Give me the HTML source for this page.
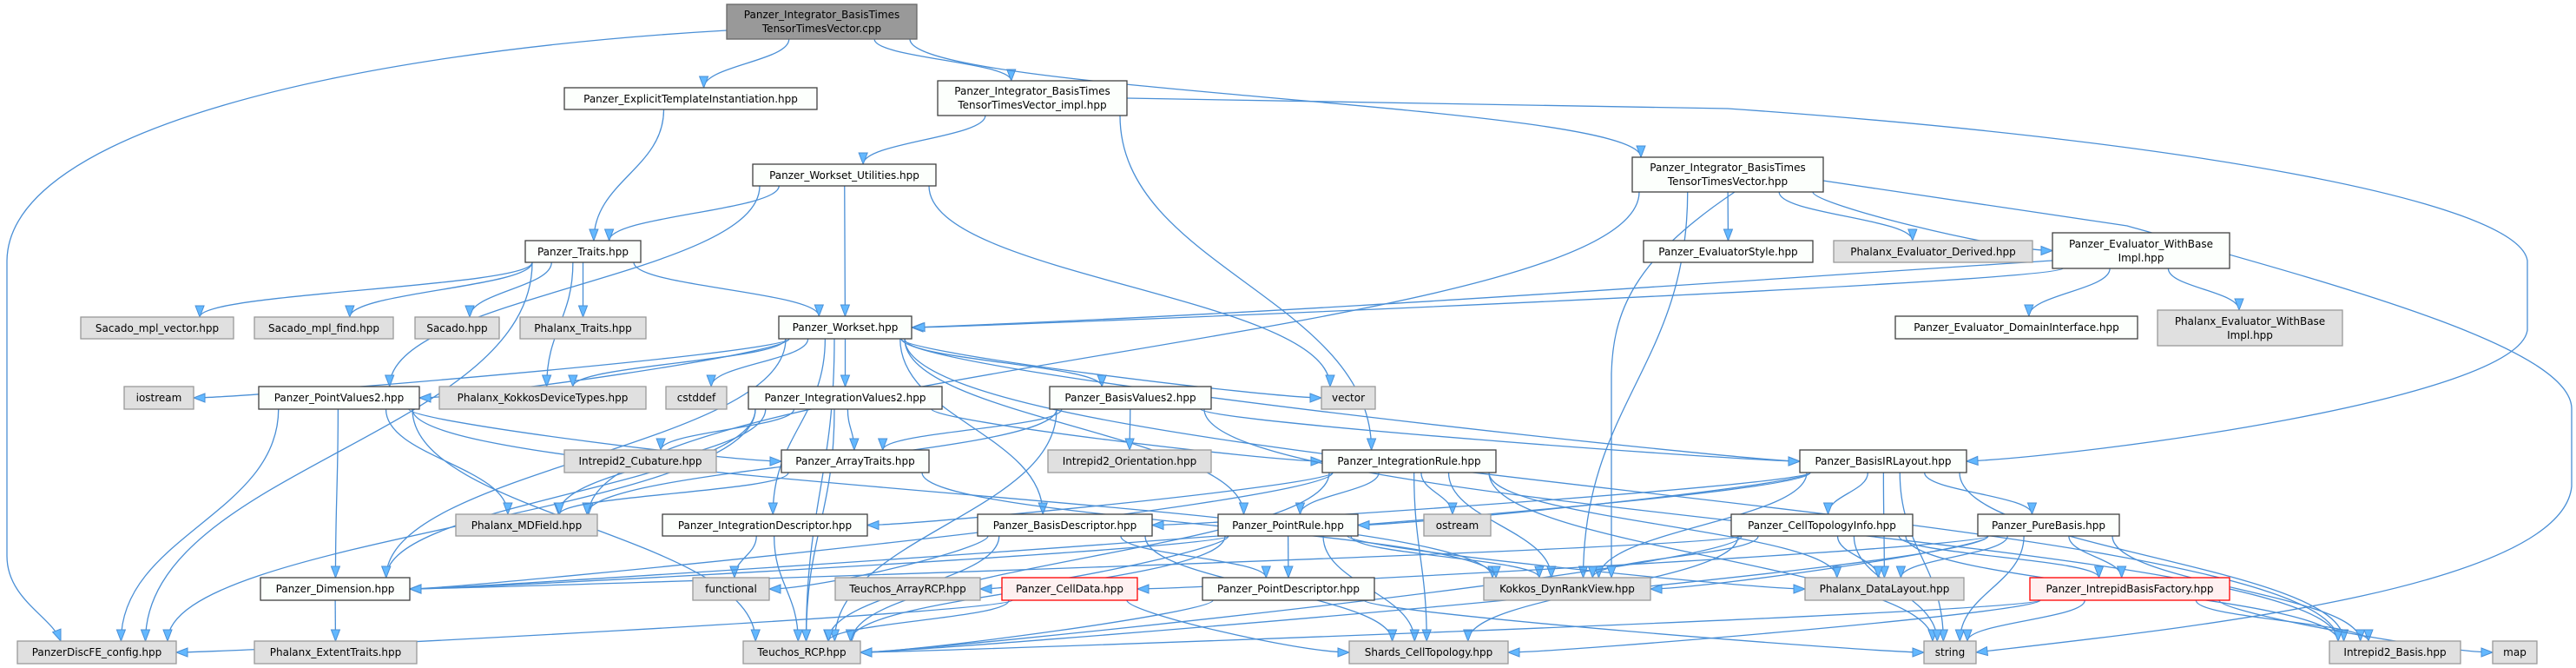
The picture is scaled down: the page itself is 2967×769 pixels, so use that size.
<!DOCTYPE html>
<html><head><meta charset="utf-8">
<style>
html,body{margin:0;padding:0;background:#fff;}
svg{display:block;}
text{font-family:"DejaVu Sans","Liberation Sans",sans-serif;font-size:12px;fill:#000;}
.w{fill:#fcfffc;stroke:#404040;stroke-width:1.3;}
.g{fill:#e0e0e0;stroke:#999;stroke-width:1.3;}
.r{fill:#fff0f0;stroke:#ff0000;stroke-width:1.3;}
.t{fill:#999;stroke:#666;stroke-width:1.3;}
.e{fill:none;stroke:#4a8fd6;stroke-width:1.3;}
.a{fill:#63b8ff;stroke:#4a8fd6;stroke-width:1;}
</style></head>
<body>
<svg id="s" width="2967" height="769" viewBox="0 0 2967 769" xmlns="http://www.w3.org/2000/svg">
<g id="edges"></g>
<g id="nodes">
<rect class="t" x="837" y="5" width="219" height="40"/><text x="946.5" y="21" text-anchor="middle">Panzer_Integrator_BasisTimes</text><text x="946.5" y="37" text-anchor="middle">TensorTimesVector.cpp</text>
<rect class="w" x="650" y="101" width="291" height="25"/><text x="795.5" y="118" text-anchor="middle">Panzer_ExplicitTemplateInstantiation.hpp</text>
<rect class="w" x="1080" y="93" width="218" height="40"/><text x="1189" y="109" text-anchor="middle">Panzer_Integrator_BasisTimes</text><text x="1189" y="125" text-anchor="middle">TensorTimesVector_impl.hpp</text>
<rect class="w" x="867" y="189" width="211" height="25"/><text x="972.5" y="206" text-anchor="middle">Panzer_Workset_Utilities.hpp</text>
<rect class="w" x="1880" y="181" width="220" height="40"/><text x="1990" y="197" text-anchor="middle">Panzer_Integrator_BasisTimes</text><text x="1990" y="213" text-anchor="middle">TensorTimesVector.hpp</text>
<rect class="w" x="605" y="277" width="133" height="25"/><text x="671.5" y="294" text-anchor="middle">Panzer_Traits.hpp</text>
<rect class="w" x="1893" y="277" width="195" height="25"/><text x="1990.5" y="294" text-anchor="middle">Panzer_EvaluatorStyle.hpp</text>
<rect class="g" x="2112" y="277" width="229" height="25"/><text x="2226.5" y="294" text-anchor="middle">Phalanx_Evaluator_Derived.hpp</text>
<rect class="w" x="2364" y="268" width="204" height="41"/><text x="2466" y="285" text-anchor="middle">Panzer_Evaluator_WithBase</text><text x="2466" y="301" text-anchor="middle">Impl.hpp</text>
<rect class="g" x="93" y="365" width="176" height="25"/><text x="181" y="382" text-anchor="middle">Sacado_mpl_vector.hpp</text>
<rect class="g" x="293" y="365" width="160" height="25"/><text x="373" y="382" text-anchor="middle">Sacado_mpl_find.hpp</text>
<rect class="g" x="478" y="365" width="97" height="25"/><text x="526.5" y="382" text-anchor="middle">Sacado.hpp</text>
<rect class="g" x="599" y="365" width="145" height="25"/><text x="671.5" y="382" text-anchor="middle">Phalanx_Traits.hpp</text>
<rect class="w" x="897" y="364" width="153" height="26"/><text x="973.5" y="381" text-anchor="middle">Panzer_Workset.hpp</text>
<rect class="w" x="2183" y="364" width="279" height="26"/><text x="2322.5" y="381" text-anchor="middle">Panzer_Evaluator_DomainInterface.hpp</text>
<rect class="g" x="2485" y="357" width="213" height="41"/><text x="2591.5" y="374" text-anchor="middle">Phalanx_Evaluator_WithBase</text><text x="2591.5" y="390" text-anchor="middle">Impl.hpp</text>
<rect class="g" x="143" y="445" width="80" height="26"/><text x="183" y="462" text-anchor="middle">iostream</text>
<rect class="w" x="298" y="445" width="185" height="26"/><text x="390.5" y="462" text-anchor="middle">Panzer_PointValues2.hpp</text>
<rect class="g" x="506" y="445" width="238" height="26"/><text x="625" y="462" text-anchor="middle">Phalanx_KokkosDeviceTypes.hpp</text>
<rect class="g" x="767" y="445" width="70" height="26"/><text x="802" y="462" text-anchor="middle">cstddef</text>
<rect class="w" x="862" y="445" width="223" height="26"/><text x="973.5" y="462" text-anchor="middle">Panzer_IntegrationValues2.hpp</text>
<rect class="w" x="1209" y="445" width="186" height="26"/><text x="1302" y="462" text-anchor="middle">Panzer_BasisValues2.hpp</text>
<rect class="g" x="1522" y="445" width="62" height="26"/><text x="1553" y="462" text-anchor="middle">vector</text>
<rect class="g" x="650" y="518" width="175" height="26"/><text x="737.5" y="535" text-anchor="middle">Intrepid2_Cubature.hpp</text>
<rect class="w" x="900" y="518" width="170" height="26"/><text x="985" y="535" text-anchor="middle">Panzer_ArrayTraits.hpp</text>
<rect class="g" x="1207" y="518" width="188" height="26"/><text x="1301" y="535" text-anchor="middle">Intrepid2_Orientation.hpp</text>
<rect class="w" x="1523" y="518" width="200" height="26"/><text x="1623" y="535" text-anchor="middle">Panzer_IntegrationRule.hpp</text>
<rect class="w" x="2073" y="518" width="192" height="26"/><text x="2169" y="535" text-anchor="middle">Panzer_BasisIRLayout.hpp</text>
<rect class="g" x="525" y="592" width="163" height="25"/><text x="606.5" y="609" text-anchor="middle">Phalanx_MDField.hpp</text>
<rect class="w" x="763" y="592" width="236" height="25"/><text x="881" y="609" text-anchor="middle">Panzer_IntegrationDescriptor.hpp</text>
<rect class="w" x="1126" y="592" width="201" height="25"/><text x="1226.5" y="609" text-anchor="middle">Panzer_BasisDescriptor.hpp</text>
<rect class="w" x="1403" y="592" width="161" height="25"/><text x="1483.5" y="609" text-anchor="middle">Panzer_PointRule.hpp</text>
<rect class="g" x="1640" y="592" width="77" height="25"/><text x="1678.5" y="609" text-anchor="middle">ostream</text>
<rect class="w" x="1994" y="592" width="209" height="25"/><text x="2098.5" y="609" text-anchor="middle">Panzer_CellTopologyInfo.hpp</text>
<rect class="w" x="2278" y="592" width="163" height="25"/><text x="2359.5" y="609" text-anchor="middle">Panzer_PureBasis.hpp</text>
<rect class="w" x="300" y="665" width="172" height="26"/><text x="386" y="682" text-anchor="middle">Panzer_Dimension.hpp</text>
<rect class="g" x="798" y="665" width="88" height="26"/><text x="842" y="682" text-anchor="middle">functional</text>
<rect class="g" x="962" y="665" width="167" height="26"/><text x="1045.5" y="682" text-anchor="middle">Teuchos_ArrayRCP.hpp</text>
<rect class="r" x="1154" y="665" width="156" height="26"/><text x="1232" y="682" text-anchor="middle">Panzer_CellData.hpp</text>
<rect class="w" x="1385" y="665" width="198" height="26"/><text x="1484" y="682" text-anchor="middle">Panzer_PointDescriptor.hpp</text>
<rect class="g" x="1709" y="665" width="192" height="26"/><text x="1805" y="682" text-anchor="middle">Kokkos_DynRankView.hpp</text>
<rect class="g" x="2079" y="665" width="183" height="26"/><text x="2170.5" y="682" text-anchor="middle">Phalanx_DataLayout.hpp</text>
<rect class="r" x="2338" y="665" width="230" height="26"/><text x="2453" y="682" text-anchor="middle">Panzer_IntrepidBasisFactory.hpp</text>
<rect class="g" x="20" y="738" width="183" height="26"/><text x="111.5" y="755" text-anchor="middle">PanzerDiscFE_config.hpp</text>
<rect class="g" x="293" y="738" width="187" height="26"/><text x="386.5" y="755" text-anchor="middle">Phalanx_ExtentTraits.hpp</text>
<rect class="g" x="856" y="738" width="135" height="26"/><text x="923.5" y="755" text-anchor="middle">Teuchos_RCP.hpp</text>
<rect class="g" x="1554" y="738" width="183" height="26"/><text x="1645.5" y="755" text-anchor="middle">Shards_CellTopology.hpp</text>
<rect class="g" x="2216" y="738" width="60" height="26"/><text x="2246" y="755" text-anchor="middle">string</text>
<rect class="g" x="2683" y="738" width="151" height="26"/><text x="2758.5" y="755" text-anchor="middle">Intrepid2_Basis.hpp</text>
<rect class="g" x="2871" y="738" width="51" height="26"/><text x="2896.5" y="755" text-anchor="middle">map</text>
</g>
</svg>
<script>
var N={T:[837,5,1056,45],EX:[650,101,941,126],IM:[1080,93,1298,133],WU:[867,189,1078,214],IH:[1880,181,2100,221],
TR:[605,277,738,302],ES:[1893,277,2088,302],PED:[2112,277,2341,302],EWB:[2364,268,2568,309],
SMV:[93,365,269,390],SMF:[293,365,453,390],SAC:[478,365,575,390],PT:[599,365,744,390],WS:[897,364,1050,390],
EDI:[2183,364,2462,390],PEWB:[2485,357,2698,398],IOS:[143,445,223,471],PV2:[298,445,483,471],PKD:[506,445,744,471],
CST:[767,445,837,471],IV2:[862,445,1085,471],BV2:[1209,445,1395,471],VEC:[1522,445,1584,471],CUB:[650,518,825,544],
AT:[900,518,1070,544],ORI:[1207,518,1395,544],IR:[1523,518,1723,544],BIR:[2073,518,2265,544],MDF:[525,592,688,617],
ID:[763,592,999,617],BD:[1126,592,1327,617],PR:[1403,592,1564,617],OST:[1640,592,1717,617],CTI:[1994,592,2203,617],
PB:[2278,592,2441,617],DIM:[300,665,472,691],FUN:[798,665,886,691],TAR:[962,665,1129,691],CD:[1154,665,1310,691],
PD:[1385,665,1583,691],KDR:[1709,665,1901,691],PDL:[2079,665,2262,691],IBF:[2338,665,2568,691],PDF:[20,738,203,764],
PET:[293,738,480,764],RCP:[856,738,991,764],SCT:[1554,738,1737,764],STR:[2216,738,2276,764],I2B:[2683,738,2834,764],MAP:[2871,738,2922,764]};
var E={T:['EX','IM','IH'],EX:['TR'],IM:['WU','IR'],WU:['TR','WS','VEC','PV2'],IH:['ES','PED','EWB','KDR','MDF'],
EWB:['WS','EDI','PEWB'],TR:['SMV','SMF','SAC','PT','WS','PDF','PKD'],
WS:['IOS','PV2','PKD','CST','IV2','BV2','VEC','DIM','RCP','ID','BD','BIR','I2B','PR'],
PV2:['PDF','DIM','RCP','AT','MDF','KDR'],IV2:['CUB','AT','IR','MDF','DIM','PDF','RCP'],
BV2:['AT','ORI','MDF','BIR','I2B','RCP'],AT:['MDF','KDR'],IR:['PR','OST','ID','RCP','DIM','KDR','SCT','STR','PDL'],
ID:['FUN','RCP'],BD:['PD','FUN','SCT','RCP'],PR:['PD','SCT','TAR','DIM','PDL','RCP','KDR'],CD:['RCP','PDF','SCT'],
PD:['RCP','STR'],BIR:['CTI','PB','PDL','KDR','I2B','STR','DIM','BD','PR'],CTI:['PDL','IBF','STR','SCT','RCP','KDR','DIM','I2B'],
PB:['IBF','PDL','KDR','STR','I2B','RCP','CD'],IBF:['STR','I2B','MAP','RCP','SCT'],DIM:['PET']};
var g=document.getElementById('edges'),out='';
function arrow(x,y,px,py){var dx=x-px,dy=y-py,l=Math.sqrt(dx*dx+dy*dy)||1;dx/=l;dy/=l;var L=13,W=5;
var bx=x-dx*L,by=y-dy*L;return '<polygon class="a" points="'+x+','+y+' '+(bx-dy*W)+','+(by+dx*W)+' '+(bx+dy*W)+','+(by-dx*W)+'"/>';}
function path(d,ex,ey,px,py){out+='<path class="e" d="'+d+'"/>'+arrow(ex,ey,px,py);}
for(var a in E){E[a].forEach(function(b){var s=N[a],t=N[b];var scx=(s[0]+s[2])/2,tcx=(t[0]+t[2])/2;
var sy=s[3],ty=t[1],dy=ty-sy,dxc=tcx-scx;
if(Math.abs(dxc)>8*Math.max(dy,20)){var right=dxc<0;var ex=right?t[2]:t[0],ey=(t[1]+t[3])/2;
var sx=right?s[0]+12:s[2]-12;sx=Math.max(s[0]+5,Math.min(s[2]-5,sx));
var c2x=ex+(right?60:-60);path('M'+sx+','+sy+' C'+sx+','+(sy+dy*0.3)+' '+c2x+','+ey+' '+ex+','+ey,ex,ey,c2x,ey);}
else{var sx=Math.max(s[0]+8,Math.min(s[2]-8,scx+dxc*0.25));var ex=Math.max(t[0]+10,Math.min(t[2]-10,tcx-dxc*0.1));
var c1y=sy+dy*0.45,c2y=ty-dy*0.45;path('M'+sx+','+sy+' C'+sx+','+c1y+' '+ex+','+c2y+' '+ex+','+ty,ex,ty,ex,c2y);}});}
path('M837,35 C400,60 10,150 8,300 L8,640 C8,690 60,710 70,738',70,738,60,712);
path('M1298,113 L1990,125 C2500,160 2900,230 2911,300 L2911,380 C2900,460 2400,525 2265,531',2265,531,2330,528);
path('M2100,208 L2450,260 C2700,330 2960,400 2962,470 L2962,560 C2950,680 2500,725 2276,751',2276,751,2330,745);
path('M1998,221 C1880,300 1858,360 1856,430 L1856,665',1856,665,1856,640);
path('M2364,300 C1900,330 1500,360 1052,377',1052,377,1080,376);
g.innerHTML=out;
</script>
</body></html>
